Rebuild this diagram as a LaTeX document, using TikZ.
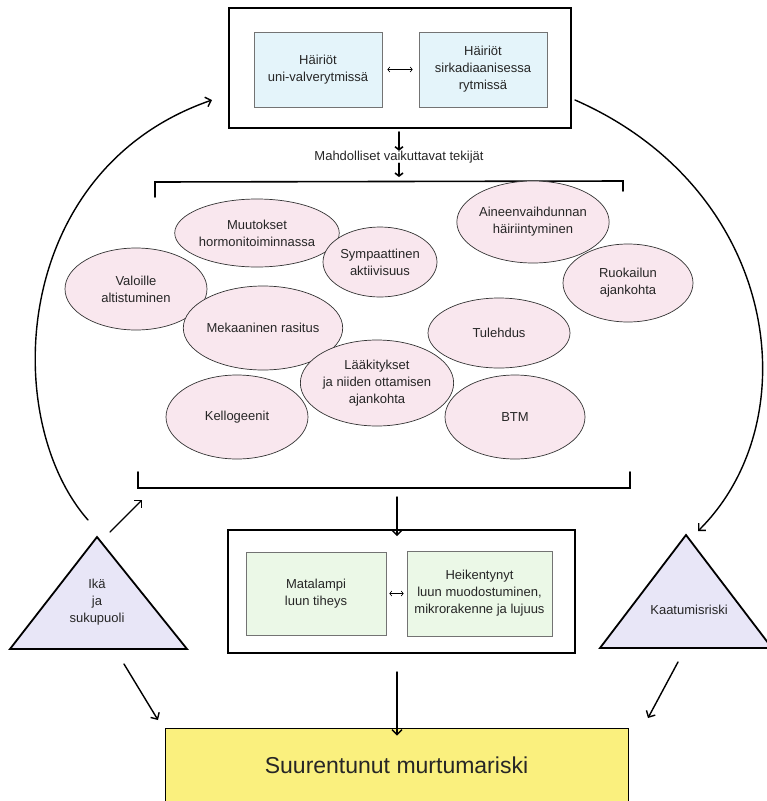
\documentclass[tikz,border=0pt]{standalone}
\usepackage{fontspec}
\setmainfont{Liberation Sans}
\usetikzlibrary{shapes.geometric,arrows.meta}
\definecolor{unisin}{HTML}{E4F4FA}
\definecolor{tekijapun}{HTML}{F9E7EE}
\definecolor{luuvihr}{HTML}{EBF8E7}
\definecolor{kolmiolil}{HTML}{E8E6F7}
\definecolor{riskikelt}{HTML}{FAF07E}
\begin{document}
\begin{tikzpicture}[x=1pt,y=-1pt,line cap=round,>={Straight Barb[length=5pt,width=10pt]},
  every node/.style={font=\fontsize{13}{17}\selectfont,text=black!85,align=center,inner sep=0pt},
  ulko/.style={draw,line width=1.8pt,fill=white},
  sisa/.style={draw=black!55,line width=0.8pt},
  tekija/.style={ellipse,draw=black!80,line width=0.7pt,fill=tekijapun},
  kolmio/.style={draw,line width=1.8pt,line join=miter,fill=kolmiolil},
  nuoli/.style={->,line width=1.4pt},
  pikku/.style={-{Straight Barb[length=3pt,width=8pt]},line width=1.6pt},
  kaksi/.style={{Straight Barb[length=2pt,width=5pt]}-{Straight Barb[length=2pt,width=5pt]},line width=0.6pt}]
  \useasboundingbox (0,0) rectangle (767,801);

  % unet ja rytmit
  \node[ulko,minimum width=342pt,minimum height=120pt] (yla) at (400,68) {};
  \node[sisa,fill=unisin,minimum width=128pt,minimum height=75pt] (uni) at (318,69.5) {Häiriöt\\uni-valverytmissä};
  \node[sisa,fill=unisin,minimum width=128pt,minimum height=75pt] (sirk) at (483,69.5) {Häiriöt\\sirkadiaanisessa\\rytmissä};
  \draw[kaksi] ([xshift=5pt]uni.east) -- ([xshift=-6pt]sirk.west);

  \node (mahd) at (399,157) {Mahdolliset vaikuttavat tekijät};
  \draw[pikku] (399,132) -- (mahd.north);
  \coordinate (sulkuyla) at (399,177);
  \draw[pikku] (mahd.south) -- (sulkuyla);

  % sulut
  \draw[line width=1.6pt] (155,197) -- (155,182) -- (623,181) -- (623,191);
  \draw[line width=1.6pt] (138,472) -- (138,488) -- (630,488) -- (630,472);

  % tekijat
  \node[tekija,minimum width=140pt,minimum height=68pt] (horm) at (257,233) {Muutokset\\hormonitoiminnassa};
  \node[tekija,minimum width=114pt,minimum height=70pt] (symp) at (380,262) {Sympaattinen\\aktiivisuus};
  \node[tekija,minimum width=140pt,minimum height=82pt] (aine) at (533,222) {Aineenvaihdunnan\\häiriintyminen};
  \node[tekija,minimum width=142pt,minimum height=82pt] (valo) at (136,289) {Valoille\\altistuminen};
  \node[tekija,minimum width=130pt,minimum height=78pt] (ruoka) at (628,283) {Ruokailun\\ajankohta};
  \node[tekija,minimum width=140pt,minimum height=84pt] (meka) at (263,328) {Mekaaninen rasitus};
  \node[tekija,minimum width=142pt,minimum height=70pt] (tule) at (499,333) {Tulehdus};
  \node[tekija,minimum width=140pt,minimum height=86pt] (laak) at (377,383) {Lääkitykset\\ja niiden ottamisen\\ajankohta};
  \node[tekija,minimum width=142pt,minimum height=84pt] (kello) at (237,417) {Kellogeenit};
  \node[tekija,minimum width=140pt,minimum height=84pt] (btm) at (515,417) {BTM};

  % luu
  \coordinate (sulkuala) at (397,497);
  \node[ulko,minimum width=347pt,minimum height=123pt] (luu) at (401.5,591.5) {};
  \draw[nuoli] (sulkuala) -- ([yshift=-7pt]sulkuala |- luu.north);
  \node[sisa,fill=luuvihr,minimum width=140pt,minimum height=83pt] (tiheys) at (316,593.5) {Matalampi\\luun tiheys};
  \node[sisa,fill=luuvihr,minimum width=145pt,minimum height=85pt] (muodo) at (479.5,593.5) {Heikentynyt\\luun muodostuminen,\\mikrorakenne ja lujuus};
  \draw[kaksi] ([xshift=3pt]tiheys.east) -- ([xshift=-3pt]muodo.west);

  % kolmiot
  \draw[kolmio] (10,649) -- (97,537) -- (187,649) -- cycle;
  \node (ika) at (97,602) {Ikä\\ja\\sukupuoli};
  \draw[kolmio] (600,648) -- (686,535) -- (772,648) -- cycle;
  \node (kaatu) at (689,610) {Kaatumisriski};

  % murtumariski
  \node[draw,line width=1pt,fill=riskikelt,minimum width=463pt,minimum height=74pt,
    font=\fontsize{23}{27}\selectfont] (murtuma) at (396.5,765) {Suurentunut murtumariski};

  % nuolet
  \coordinate (ikakaari) at (88,520);
  \coordinate (ylavasen) at (212,100);
  \draw[nuoli] (ikakaari) .. controls (0,420) and (10,170) .. (ylavasen);
  \coordinate (ylaoikea) at (575,100);
  \coordinate (kaatuhuippu) at (698,531);
  \draw[nuoli] (ylaoikea) .. controls (780,190) and (810,420) .. (kaatuhuippu);
  \draw[nuoli] (110,532) -- (142,500);
  \draw[nuoli] (124,664) -- (158,720);
  \coordinate (luuala) at (397,672);
  \draw[nuoli] (luuala) -- ([yshift=-8pt]luuala |- murtuma.north);
  \draw[nuoli] (678,662) -- (648,718);
\end{tikzpicture}
\end{document}
